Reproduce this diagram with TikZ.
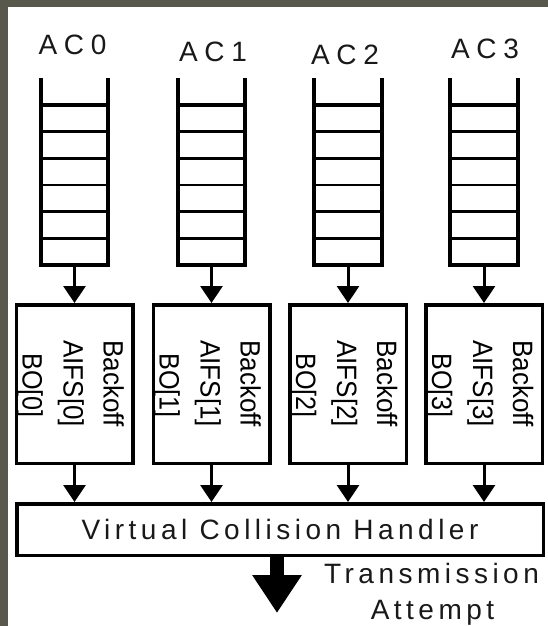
\documentclass[tikz,border=0pt]{standalone}
\usepackage{fontspec}
\usepackage{graphicx}
\setmainfont{Liberation Sans}
\newfontfamily\spaced[LetterSpace=16]{Liberation Sans}
\newfontfamily\spacedac[LetterSpace=24]{Liberation Sans}
\usetikzlibrary{arrows.meta}
\definecolor{bgolive}{RGB}{88,88,76}
\definecolor{ink}{RGB}{25,25,25}
\begin{document}
\begin{tikzpicture}[x=1pt,y=-1pt,
  queueline/.style={line width=4pt, line join=miter},
  rung/.style={line width=2.6pt},
  toprung/.style={line width=4pt},
  boxnode/.style={draw, line width=3.5pt, minimum width=116.5pt, minimum height=158.5pt, inner sep=0pt},
  handlerbox/.style={draw, line width=3.5pt, minimum width=526.5pt, minimum height=51.5pt, inner sep=0pt, text=ink,
    font=\fontsize{28pt}{32pt}\spaced},
  arr/.style={line width=3pt, -{Triangle[width=22pt,length=17pt]}},
  bigarr/.style={line width=14pt, -{Triangle[width=47pt,length=38pt]}},
  aclabel/.style={anchor=base, inner sep=0pt, text=ink, font=\fontsize{28pt}{32pt}\spacedac},
  vlabel/.style={rotate=-90, anchor=base west, inner sep=0pt, text=black, font=\fontsize{28pt}{32pt}\selectfont},
  outlabel/.style={anchor=base, inner sep=0pt, text=ink, font=\fontsize{28pt}{32pt}\spaced}
]
\useasboundingbox (0,0) rectangle (548,626);
\fill[bgolive] (0,0) rectangle (548,626);
\fill[white] (8,7) rectangle (548,626);

% handler
\node[handlerbox] (h) at (280,529.5) {Virtual Collision Handler};

% columns: x, label x, label baseline
\foreach \i/\x/\lx/\ly in {0/74.5/72.5/55, 1/211.5/213/61, 2/348/345/64.5, 3/484/485/59}{
  \node[aclabel] (ac\i) at (\lx,\ly) {AC\i};
  % queue
  \draw[queueline] (\x-33.75,78) -- (\x-33.75,265) -- (\x+33.75,265) -- (\x+33.75,78);
  \draw[toprung] (\x-33.75,105) -- (\x+33.75,105);
  \foreach \r in {131.7,158.3,185,211.7,238.3}{
    \draw[rung] (\x-33.75,\r) -- (\x+33.75,\r);
  }
  \coordinate (q\i) at (\x,267);
  % backoff box
  \node[boxnode] (b\i) at (\x,384) {};
  \node[vlabel] (bk\i) at (\x-60+89,340) {\scalebox{0.93}[1]{Backoff}};
  \node[vlabel] (af\i) at (\x-60+49,340) {\scalebox{0.93}[1]{AIFS[\i]}};
  \node[vlabel] (bo\i) at (\x-60+8,353) {\scalebox{0.9}[1]{BO[\i]}};
  \draw[arr] (q\i) -- (b\i);
  \draw[arr] (b\i.south) -- (b\i.south |- h.north);
}

% transmission attempt
\coordinate (tip) at (277,613);
\draw[bigarr] (h.south -| tip) -- (tip);
\node[outlabel] (t1) at (431.5,583) {Transmission};
\node[outlabel] (t2) at (432.5,619) {Attempt};
\end{tikzpicture}
\end{document}
